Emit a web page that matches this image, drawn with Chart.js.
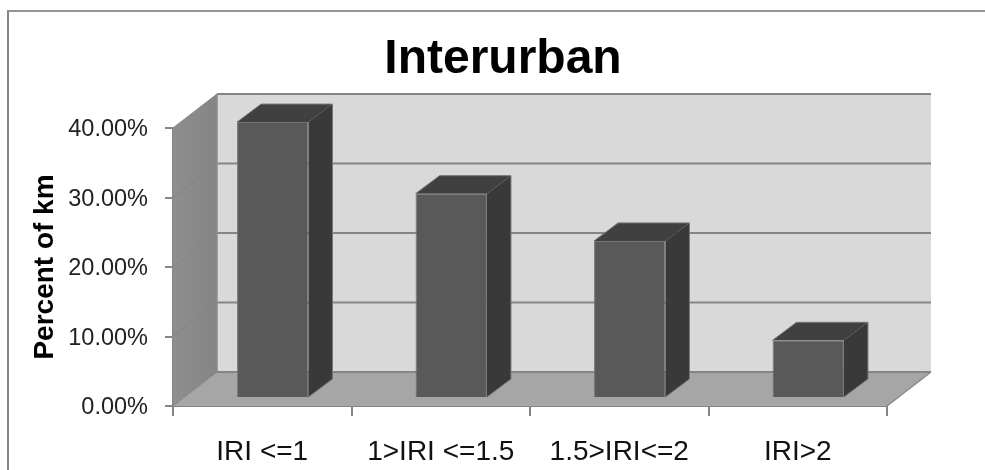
<!DOCTYPE html>
<html>
<head>
<meta charset="utf-8">
<title>Interurban</title>
<script src="https://cdn.jsdelivr.net/npm/chart.js@4/dist/chart.umd.min.js"></script>
<style>
  html, body { margin: 0; padding: 0; background: #fff; overflow: hidden; }
  #frame { position: absolute; left: 7px; top: 10px; right: 0; bottom: 0;
           border-left: 2px solid #868686; border-top: 2px solid #949494; }
  canvas { position: absolute; left: 0; top: 0; }
</style>
</head>
<body>
<div id="frame"></div>
<canvas id="iriChart" width="985" height="470"></canvas>
<script>
const categories = ['IRI <=1', '1>IRI <=1.5', '1.5>IRI<=2', 'IRI>2'];
const percentKm = [39.7, 29.4, 22.6, 8.3];
const yTicks = [0, 10, 20, 30, 40];

// depth of the fake 3d box and of the bars
const wallDx = 44, wallDy = -34;
const barDx = 24, barDy = -18;
const barShiftX = 10.5, barShiftY = -8;

const box3d = {
  id: 'box3d',
  afterLayout(chart) {
    // title sits right of the centre of the canvas
    chart.titleBlock.left += 91;
  },
  beforeDatasetsDraw(chart) {
    const { ctx, scales: { x, y } } = chart;
    const l = x.left, r = x.right, t = y.top, b = y.bottom;

    // back wall
    ctx.fillStyle = '#d9d9d9';
    ctx.fillRect(l + wallDx, t + wallDy, r - l, b - t);

    // left wall
    const grad = ctx.createLinearGradient(l, 0, l + wallDx, 0);
    grad.addColorStop(0, '#8e8e8e');
    grad.addColorStop(1, '#858585');
    ctx.fillStyle = grad;
    ctx.beginPath();
    ctx.moveTo(l, t);
    ctx.lineTo(l + wallDx, t + wallDy);
    ctx.lineTo(l + wallDx, b + wallDy);
    ctx.lineTo(l, b);
    ctx.closePath();
    ctx.fill();

    // floor
    ctx.fillStyle = '#a6a6a6';
    ctx.beginPath();
    ctx.moveTo(l, b);
    ctx.lineTo(l + wallDx, b + wallDy);
    ctx.lineTo(r + wallDx, b + wallDy);
    ctx.lineTo(r, b);
    ctx.closePath();
    ctx.fill();

    // grid lines on both walls
    yTicks.forEach((v) => {
      const py = y.getPixelForValue(v);
      ctx.strokeStyle = '#858585';
      ctx.lineWidth = 2;
      ctx.beginPath();
      ctx.moveTo(l + wallDx, py + wallDy);
      ctx.lineTo(r + wallDx, py + wallDy);
      ctx.stroke();
      ctx.strokeStyle = '#838383';
      ctx.lineWidth = 1;
      ctx.beginPath();
      ctx.moveTo(l, py);
      ctx.lineTo(l + wallDx, py + wallDy);
      ctx.stroke();
    });
    ctx.strokeStyle = '#8a8a8a';
    ctx.lineWidth = 1.5;
    ctx.beginPath();
    ctx.moveTo(l + wallDx, t + wallDy);
    ctx.lineTo(l + wallDx, b + wallDy);
    ctx.moveTo(r, b);
    ctx.lineTo(r + wallDx, b + wallDy);
    ctx.stroke();
  },
  beforeDatasetDraw(chart) {
    const ctx = chart.ctx;
    ctx.save();
    ctx.translate(barShiftX, barShiftY);
    // top and side faces behind the front face
    chart.getDatasetMeta(0).data.forEach((bar) => {
      const x0 = bar.x - bar.width / 2, x1 = bar.x + bar.width / 2;
      ctx.fillStyle = '#404040';
      ctx.beginPath();
      ctx.moveTo(x0, bar.y);
      ctx.lineTo(x0 + barDx, bar.y + barDy);
      ctx.lineTo(x1 + barDx, bar.y + barDy);
      ctx.lineTo(x1, bar.y);
      ctx.closePath();
      ctx.fill();
      ctx.fillStyle = '#393939';
      ctx.beginPath();
      ctx.moveTo(x1, bar.y);
      ctx.lineTo(x1 + barDx, bar.y + barDy);
      ctx.lineTo(x1 + barDx, bar.base + barDy);
      ctx.lineTo(x1, bar.base);
      ctx.closePath();
      ctx.fill();
      ctx.strokeStyle = '#757575';
      ctx.lineWidth = 1;
      ctx.beginPath();
      ctx.moveTo(x0, bar.y);
      ctx.lineTo(x0 + barDx, bar.y + barDy);
      ctx.lineTo(x1 + barDx, bar.y + barDy);
      ctx.lineTo(x1 + barDx, bar.base + barDy);
      ctx.lineTo(x1, bar.base);
      ctx.stroke();
    });
  },
  afterDatasetDraw(chart) {
    chart.ctx.restore();
  }
};

const data = {
  labels: categories,
  datasets: [{
    label: 'Percent of km',
    data: percentKm,
    backgroundColor: '#595959',
    borderColor: '#757575',
    borderWidth: 1,
    barPercentage: 1,
    categoryPercentage: 0.4
  }]
};

const config = {
  type: 'bar',
  data,
  plugins: [box3d],
  options: {
    responsive: false,
    animation: false,
    layout: { padding: { left: 28, right: 98, top: 0, bottom: 0 } },
    plugins: {
      legend: { display: false },
      tooltip: { enabled: false },
      title: {
        display: true,
        text: 'Interurban',
        color: '#000',
        font: { family: 'Liberation Sans', size: 48, weight: 'bold', lineHeight: 1.2 },
        padding: { top: 31, bottom: 39.4 }
      }
    },
    scales: {
      x: {
        afterFit(scale) { scale.height = 64; },
        grid: { drawOnChartArea: false, color: '#858585', lineWidth: 2, tickLength: 10 },
        border: { color: '#858585', width: 2 },
        ticks: {
          color: '#111',
          padding: 19,
          maxRotation: 0,
          autoSkip: false,
          font: { family: 'Liberation Sans', size: 28 }
        }
      },
      y: {
        min: 0,
        max: 40,
        afterFit(scale) { scale.width = 145; },
        afterBuildTicks(scale) { scale.ticks = yTicks.map((v) => ({ value: v })); },
        title: {
          display: true,
          text: 'Percent of km',
          color: '#000',
          font: { family: 'Liberation Sans', size: 28, weight: 'bold' },
          padding: 0
        },
        grid: { drawOnChartArea: false, color: '#858585', lineWidth: 2, tickLength: 8 },
        border: { color: '#858585', width: 2 },
        ticks: {
          color: '#222',
          padding: 17,
          labelOffset: 2,
          font: { family: 'Liberation Sans', size: 23.5 },
          callback: (v) => v.toFixed(2) + '%'
        }
      }
    }
  }
};

var iriChart = new Chart(document.getElementById('iriChart'), config);
</script>
</body>
</html>
